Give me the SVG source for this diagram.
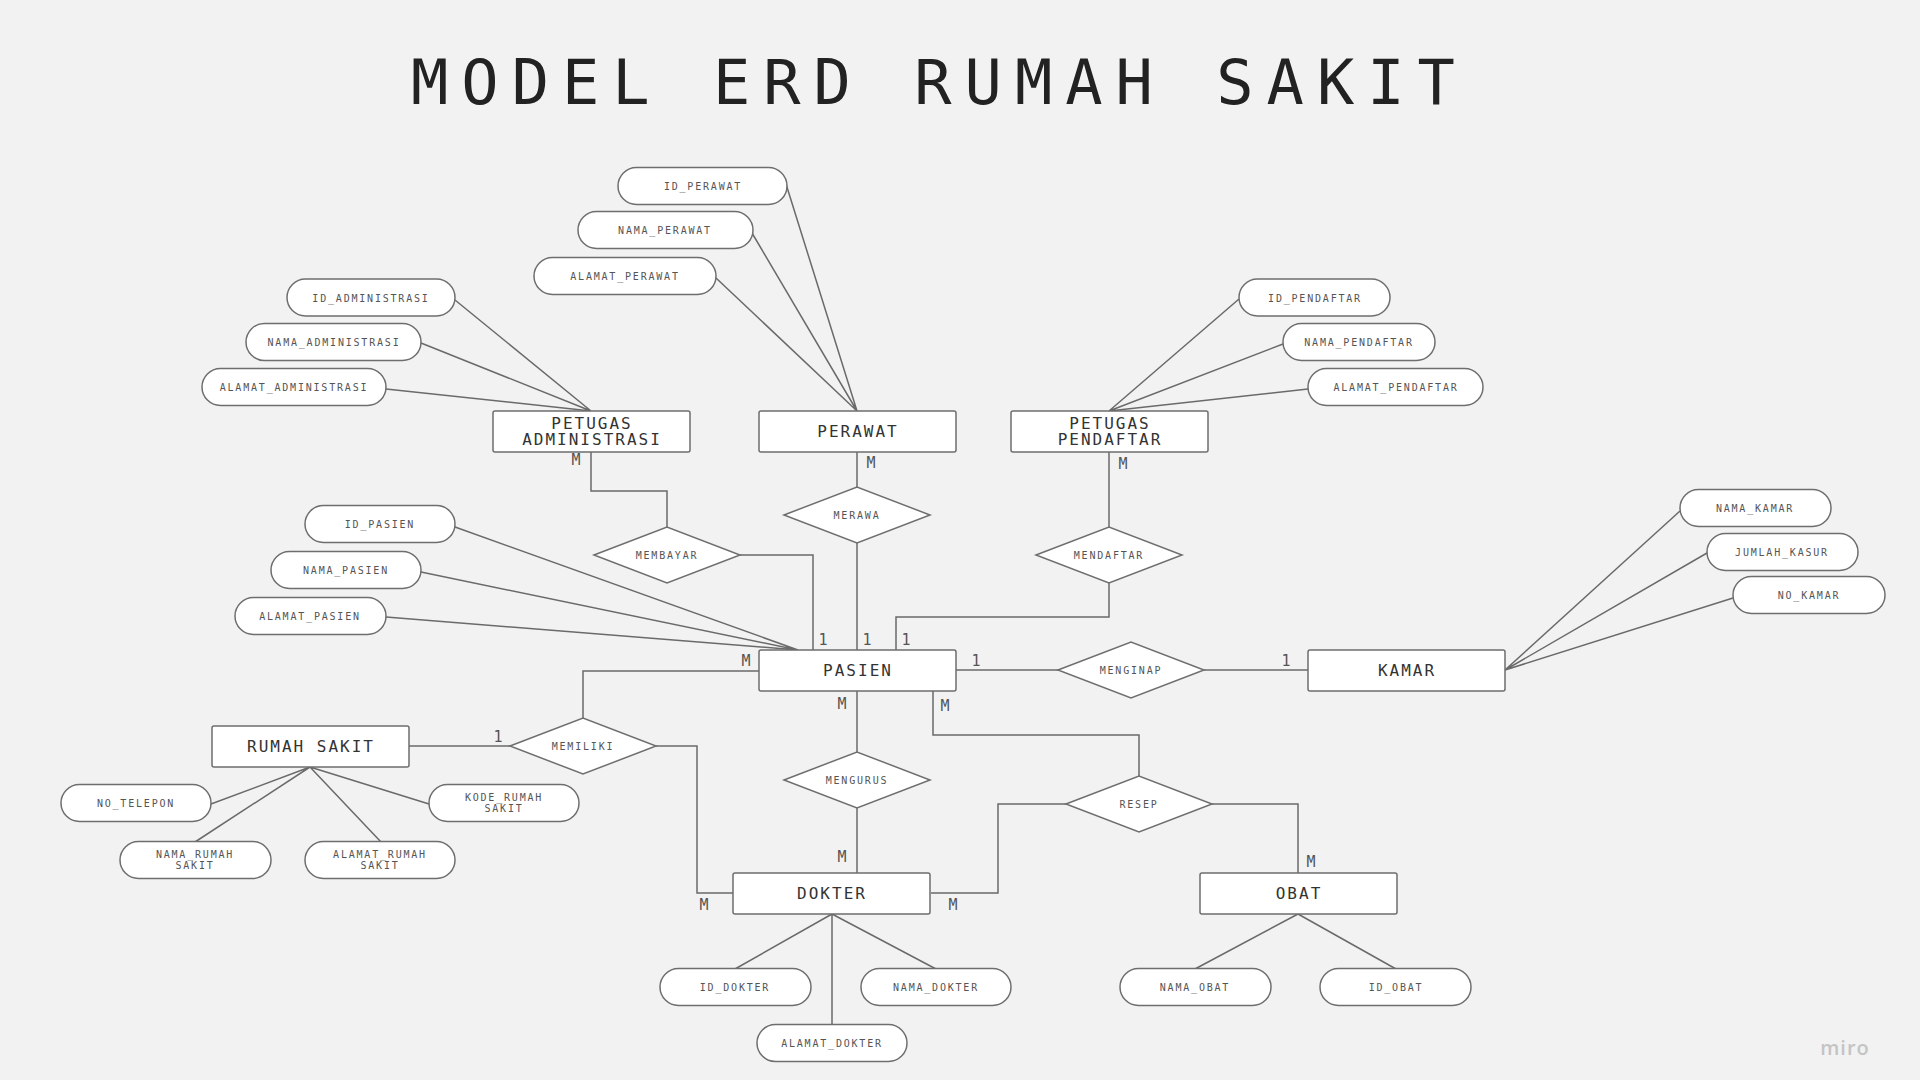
<svg xmlns="http://www.w3.org/2000/svg" width="1920" height="1080" viewBox="0 0 1920 1080">
<style>
.bg{fill:#f2f2f2}
.ent{fill:#fff;stroke:#6e6e6e;stroke-width:1.5}
.att{fill:#fff;stroke:#6e6e6e;stroke-width:1.5}
.rel{fill:#fff;stroke:#6e6e6e;stroke-width:1.5}
.ln{fill:none;stroke:#6a6a6a;stroke-width:1.5}
.et{font-family:"DejaVu Sans Mono","Liberation Mono",monospace;font-size:16px;letter-spacing:2px;fill:#333;text-anchor:middle}
.at{font-family:"DejaVu Sans Mono","Liberation Mono",monospace;font-size:10px;letter-spacing:1.8px;fill:#555;text-anchor:middle}
.rt{font-family:"DejaVu Sans Mono","Liberation Mono",monospace;font-size:10px;letter-spacing:1.8px;fill:#555;text-anchor:middle}
.cd{font-family:"DejaVu Sans Mono","Liberation Mono",monospace;font-size:15px;fill:#555;text-anchor:middle}
.title{font-family:"DejaVu Sans Mono","Liberation Mono",monospace;font-size:62px;letter-spacing:13px;fill:#222}
</style>
<rect class="bg" x="0" y="0" width="1920" height="1080"/>
<text class="title" x="411" y="104">MODEL ERD RUMAH SAKIT</text>

<g id="connectors">
  <!-- attribute lines -->
  <path class="ln" d="M455,300 L591,411 M421,343 L591,411 M386,389 L591,411"/>
  <path class="ln" d="M786,184 L857,411 M752,233 L857,411 M716,278 L857,411"/>
  <path class="ln" d="M1239,299 L1109,411 M1283,344 L1109,411 M1308,389 L1109,411"/>
  <path class="ln" d="M1680,511 L1505,670 M1707,553 L1505,670 M1733,598 L1505,670"/>
  <path class="ln" d="M455,527 L798,650 M421,572 L798,650 M386,617 L798,650"/>
  <path class="ln" d="M310,767 L211,804 M310,767 L195,842 M310,767 L381,842 M310,767 L429,804"/>
  <path class="ln" d="M832,914 L735,969 M832,914 L936,969 M832,914 L832,1024"/>
  <path class="ln" d="M1298,914 L1195,969 M1298,914 L1396,969"/>
  <!-- relationship lines -->
  <path class="ln" d="M591,452 V491 H667 V527"/>
  <path class="ln" d="M740,555 H813 V650"/>
  <path class="ln" d="M857,452 V487"/>
  <path class="ln" d="M857,543 V650"/>
  <path class="ln" d="M1109,452 V527"/>
  <path class="ln" d="M1109,583 V617 H896 V650"/>
  <path class="ln" d="M956,670 H1058"/>
  <path class="ln" d="M1204,670 H1308"/>
  <path class="ln" d="M759,671 H583 V718"/>
  <path class="ln" d="M510,746 H409"/>
  <path class="ln" d="M656,746 H697 V893 H733"/>
  <path class="ln" d="M857,691 V752"/>
  <path class="ln" d="M857,808 V873"/>
  <path class="ln" d="M933,691 V735 H1139 V776"/>
  <path class="ln" d="M1066,804 H998 V893 H931"/>
  <path class="ln" d="M1212,804 H1298 V873"/>
  <!-- cardinalities -->
  <text class="cd" x="576" y="465">M</text>
  <text class="cd" x="871" y="468">M</text>
  <text class="cd" x="1123" y="469">M</text>
  <text class="cd" x="823" y="645">1</text>
  <text class="cd" x="867" y="645">1</text>
  <text class="cd" x="906" y="645">1</text>
  <text class="cd" x="746" y="666">M</text>
  <text class="cd" x="976" y="666">1</text>
  <text class="cd" x="1286" y="666">1</text>
  <text class="cd" x="498" y="742">1</text>
  <text class="cd" x="842" y="709">M</text>
  <text class="cd" x="945" y="711">M</text>
  <text class="cd" x="842" y="862">M</text>
  <text class="cd" x="704" y="910">M</text>
  <text class="cd" x="953" y="910">M</text>
  <text class="cd" x="1311" y="867">M</text>
</g>

<!-- entities -->
<g id="petugas-administrasi"><rect class="ent" x="493" y="411" width="197" height="41" rx="2"/><text class="et" x="592" y="429">PETUGAS</text><text class="et" x="592" y="445">ADMINISTRASI</text></g>
<g id="perawat"><rect class="ent" x="759" y="411" width="197" height="41" rx="2"/><text class="et" x="858" y="437">PERAWAT</text></g>
<g id="petugas-pendaftar"><rect class="ent" x="1011" y="411" width="197" height="41" rx="2"/><text class="et" x="1110" y="429">PETUGAS</text><text class="et" x="1110" y="445">PENDAFTAR</text></g>
<g id="pasien"><rect class="ent" x="759" y="650" width="197" height="41" rx="2"/><text class="et" x="858" y="676">PASIEN</text></g>
<g id="kamar"><rect class="ent" x="1308" y="650" width="197" height="41" rx="2"/><text class="et" x="1407" y="676">KAMAR</text></g>
<g id="rumah-sakit"><rect class="ent" x="212" y="726" width="197" height="41" rx="2"/><text class="et" x="311" y="752">RUMAH SAKIT</text></g>
<g id="dokter"><rect class="ent" x="733" y="873" width="197" height="41" rx="2"/><text class="et" x="832" y="899">DOKTER</text></g>
<g id="obat"><rect class="ent" x="1200" y="873" width="197" height="41" rx="2"/><text class="et" x="1299" y="899">OBAT</text></g>

<!-- relationships -->
<g id="membayar"><polygon class="rel" points="594,555 667,527 740,555 667,583"/><text class="rt" x="667" y="559">MEMBAYAR</text></g>
<g id="merawa"><polygon class="rel" points="784,515 857,487 930,515 857,543"/><text class="rt" x="857" y="519">MERAWA</text></g>
<g id="mendaftar"><polygon class="rel" points="1036,555 1109,527 1182,555 1109,583"/><text class="rt" x="1109" y="559">MENDAFTAR</text></g>
<g id="menginap"><polygon class="rel" points="1058,670 1131,642 1204,670 1131,698"/><text class="rt" x="1131" y="674">MENGINAP</text></g>
<g id="memiliki"><polygon class="rel" points="510,746 583,718 656,746 583,774"/><text class="rt" x="583" y="750">MEMILIKI</text></g>
<g id="mengurus"><polygon class="rel" points="784,780 857,752 930,780 857,808"/><text class="rt" x="857" y="784">MENGURUS</text></g>
<g id="resep"><polygon class="rel" points="1066,804 1139,776 1212,804 1139,832"/><text class="rt" x="1139" y="808">RESEP</text></g>

<!-- attributes -->
<g id="id-perawat"><rect class="att" x="618" y="167.5" width="169" height="37" rx="18.5"/><text class="at" x="703" y="190">ID_PERAWAT</text></g>
<g id="nama-perawat"><rect class="att" x="578" y="211.5" width="175" height="37" rx="18.5"/><text class="at" x="665" y="234">NAMA_PERAWAT</text></g>
<g id="alamat-perawat"><rect class="att" x="534" y="257.5" width="182" height="37" rx="18.5"/><text class="at" x="625" y="280">ALAMAT_PERAWAT</text></g>
<g id="id-administrasi"><rect class="att" x="287" y="279" width="168" height="37" rx="18.5"/><text class="at" x="371" y="301.5">ID_ADMINISTRASI</text></g>
<g id="nama-administrasi"><rect class="att" x="246" y="323.5" width="175" height="37" rx="18.5"/><text class="at" x="334" y="346">NAMA_ADMINISTRASI</text></g>
<g id="alamat-administrasi"><rect class="att" x="202" y="368.5" width="184" height="37" rx="18.5"/><text class="at" x="294" y="391">ALAMAT_ADMINISTRASI</text></g>
<g id="id-pendaftar"><rect class="att" x="1239" y="279" width="151" height="37" rx="18.5"/><text class="at" x="1315" y="301.5">ID_PENDAFTAR</text></g>
<g id="nama-pendaftar"><rect class="att" x="1283" y="323.5" width="152" height="37" rx="18.5"/><text class="at" x="1359" y="346">NAMA_PENDAFTAR</text></g>
<g id="alamat-pendaftar"><rect class="att" x="1308" y="368.5" width="175" height="37" rx="18.5"/><text class="at" x="1396" y="391">ALAMAT_PENDAFTAR</text></g>
<g id="nama-kamar"><rect class="att" x="1680" y="489.5" width="151" height="37" rx="18.5"/><text class="at" x="1755" y="512">NAMA_KAMAR</text></g>
<g id="jumlah-kasur"><rect class="att" x="1707" y="533.5" width="151" height="37" rx="18.5"/><text class="at" x="1782" y="556">JUMLAH_KASUR</text></g>
<g id="no-kamar"><rect class="att" x="1733" y="576.5" width="152" height="37" rx="18.5"/><text class="at" x="1809" y="599">NO_KAMAR</text></g>
<g id="id-pasien"><rect class="att" x="305" y="505.5" width="150" height="37" rx="18.5"/><text class="at" x="380" y="528">ID_PASIEN</text></g>
<g id="nama-pasien"><rect class="att" x="271" y="551.5" width="150" height="37" rx="18.5"/><text class="at" x="346" y="574">NAMA_PASIEN</text></g>
<g id="alamat-pasien"><rect class="att" x="235" y="597.5" width="151" height="37" rx="18.5"/><text class="at" x="310" y="620">ALAMAT_PASIEN</text></g>
<g id="no-telepon"><rect class="att" x="61" y="784.5" width="150" height="37" rx="18.5"/><text class="at" x="136" y="807">NO_TELEPON</text></g>
<g id="kode-rumah-sakit"><rect class="att" x="429" y="784.5" width="150" height="37" rx="18.5"/><text class="at" x="504" y="801">KODE_RUMAH</text><text class="at" x="504" y="812">SAKIT</text></g>
<g id="nama-rumah-sakit"><rect class="att" x="120" y="841.5" width="151" height="37" rx="18.5"/><text class="at" x="195" y="858">NAMA_RUMAH</text><text class="at" x="195" y="869">SAKIT</text></g>
<g id="alamat-rumah-sakit"><rect class="att" x="305" y="841.5" width="150" height="37" rx="18.5"/><text class="at" x="380" y="858">ALAMAT_RUMAH</text><text class="at" x="380" y="869">SAKIT</text></g>
<g id="id-dokter"><rect class="att" x="660" y="968.5" width="151" height="37" rx="18.5"/><text class="at" x="735" y="991">ID_DOKTER</text></g>
<g id="nama-dokter"><rect class="att" x="861" y="968.5" width="150" height="37" rx="18.5"/><text class="at" x="936" y="991">NAMA_DOKTER</text></g>
<g id="alamat-dokter"><rect class="att" x="757" y="1024.5" width="150" height="37" rx="18.5"/><text class="at" x="832" y="1047">ALAMAT_DOKTER</text></g>
<g id="nama-obat"><rect class="att" x="1120" y="968.5" width="151" height="37" rx="18.5"/><text class="at" x="1195" y="991">NAMA_OBAT</text></g>
<g id="id-obat"><rect class="att" x="1320" y="968.5" width="151" height="37" rx="18.5"/><text class="at" x="1396" y="991">ID_OBAT</text></g>

<text x="1845" y="1055" style="font-family:'Open Sans','Liberation Sans',sans-serif;font-size:20px;font-weight:600;fill:#c4c4c4;text-anchor:middle;letter-spacing:1px">miro</text>
</svg>
